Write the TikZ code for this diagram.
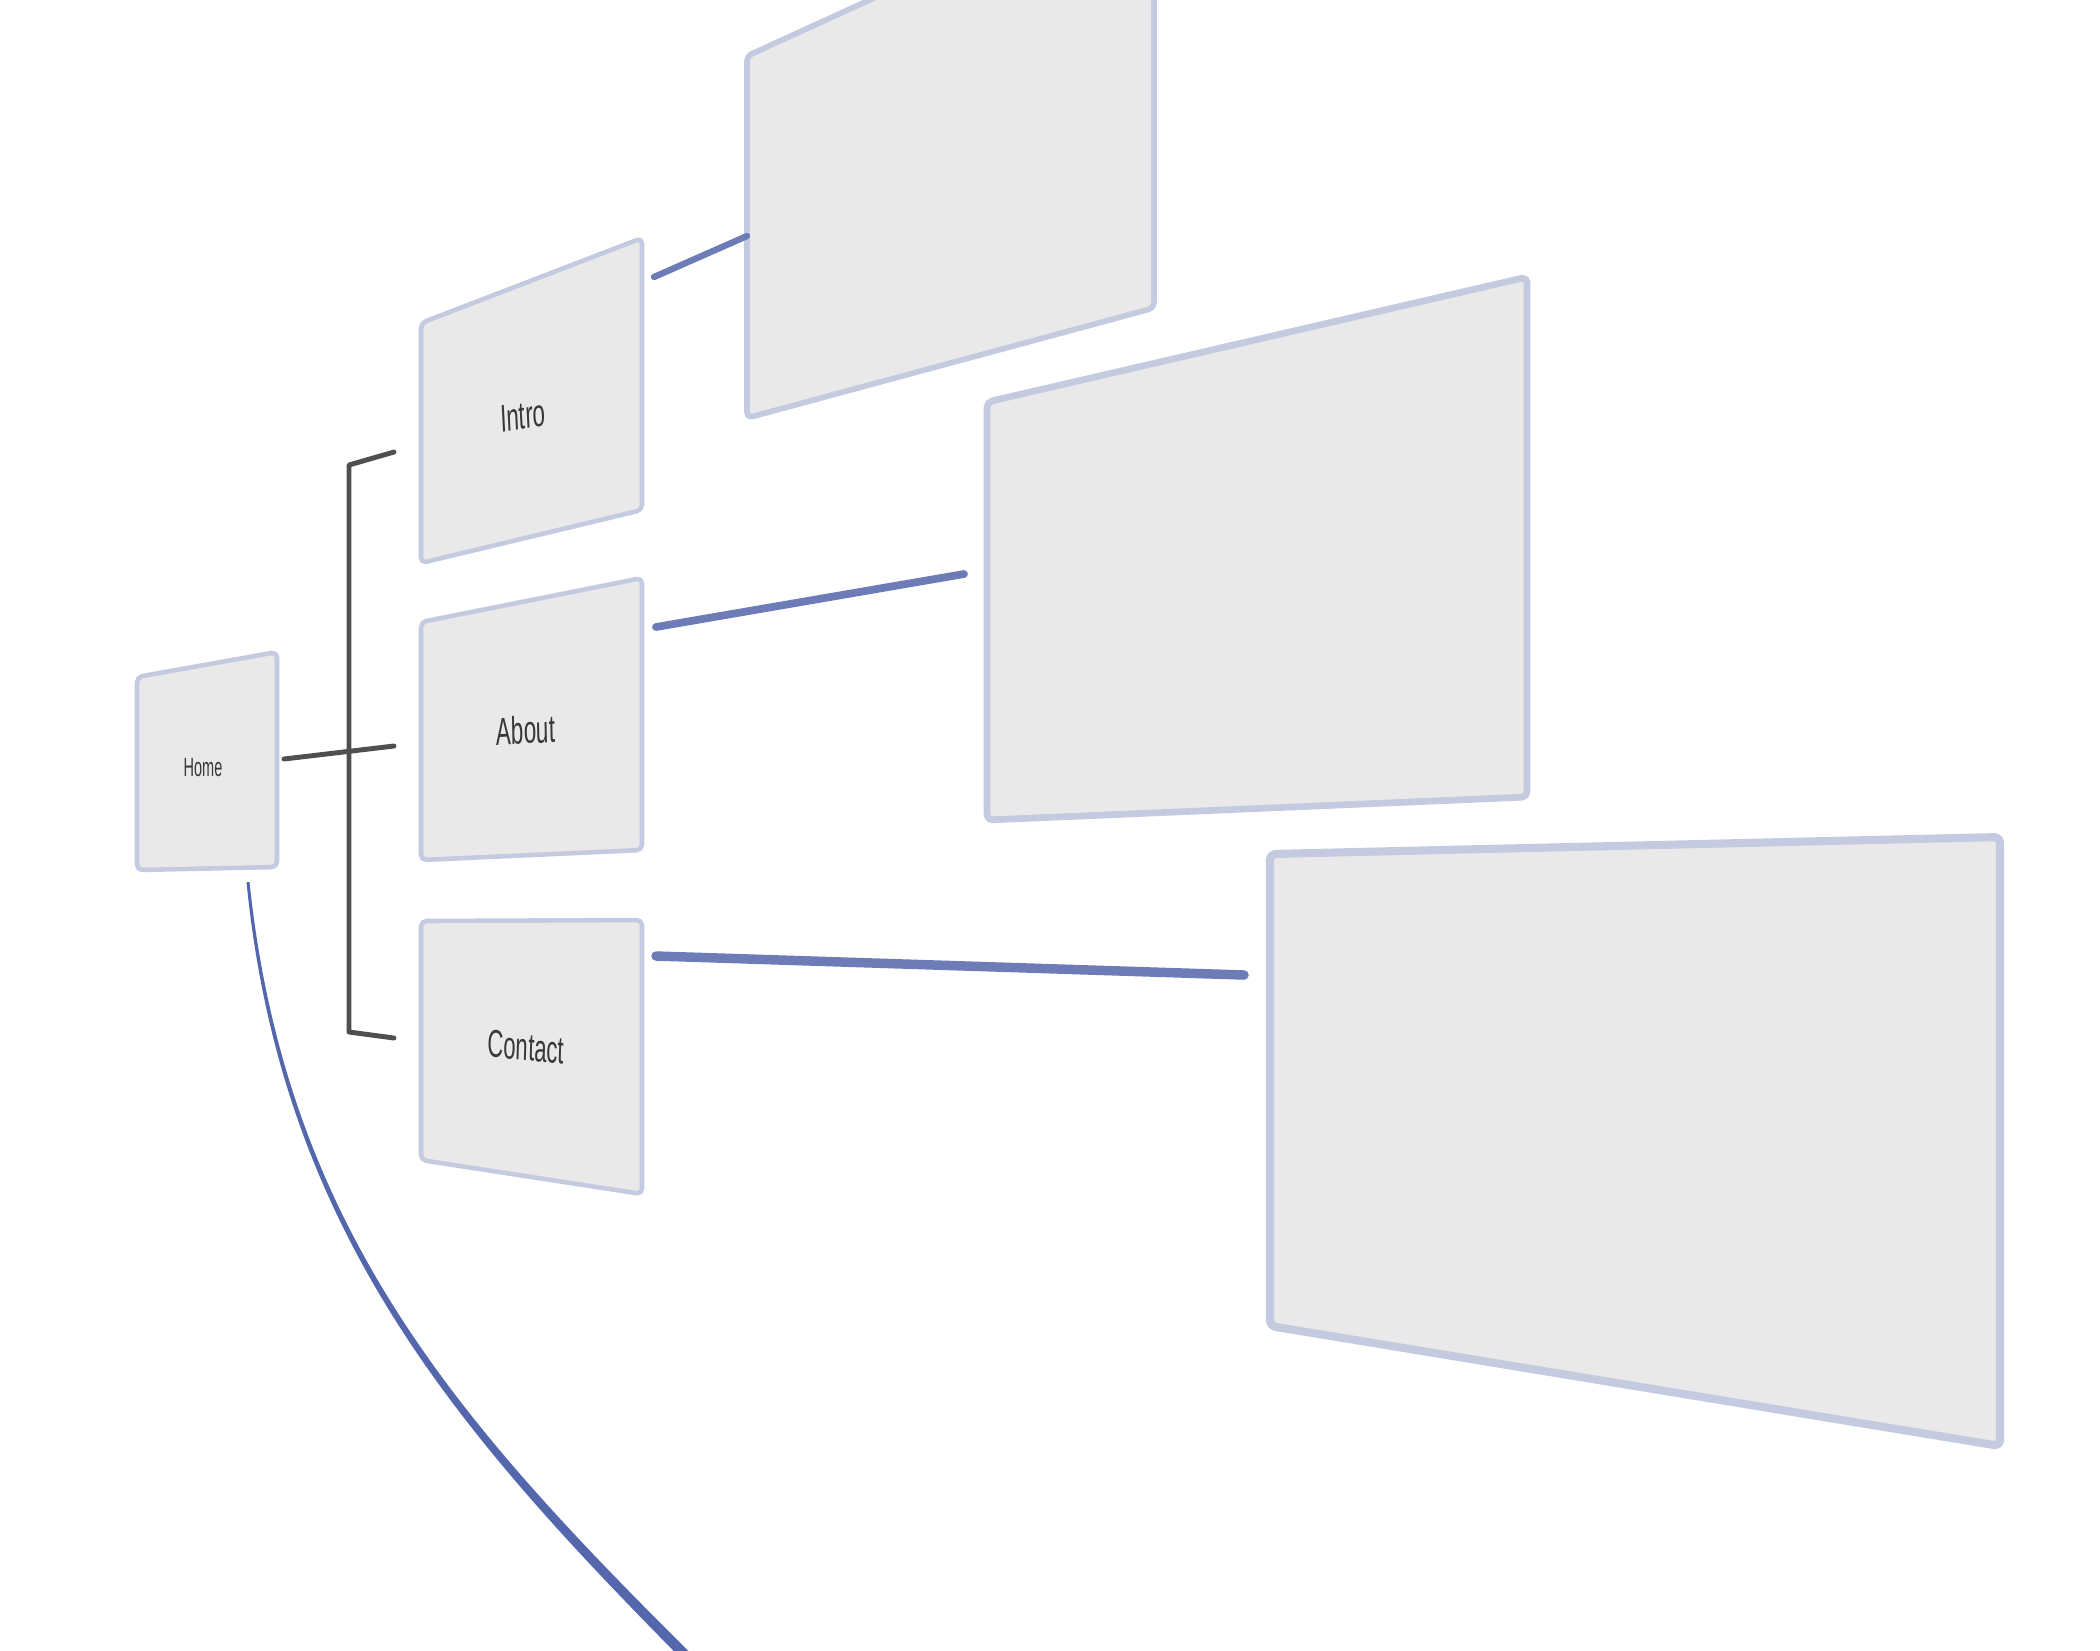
\documentclass[tikz,border=0pt]{standalone}
\usepackage{fontspec}
\setmainfont{Liberation Sans}
\usetikzlibrary{positioning,calc}
\definecolor{pagefill}{HTML}{E9E9E9}
\definecolor{pageline}{HTML}{C4CADF}
\definecolor{linkblue}{HTML}{6D7CB6}
\definecolor{curveblue}{HTML}{5466AC}
\definecolor{bracegray}{HTML}{4F4F4F}

\tikzset{
  pagebox/.style={fill=pagefill, draw=pageline, line width=1.3pt, rounded corners=1.5pt, line join=round},
  link/.style={draw=linkblue, line cap=round},
  brace/.style={draw=bracegray, line width=1.4pt, line cap=round, line join=round},
  pagelabel/.style={text=black!78, inner sep=0pt, font=\fontsize{11}{13}\selectfont}
}

\begin{document}
\begin{tikzpicture}[x=0.01cm,y=-0.01cm]
\useasboundingbox (0,0) rectangle (2100,1650);
\clip (0,0) rectangle (2100,1650);

% home
\filldraw[pagebox] (137,677) -- (277,652) -- (277,867) -- (137,870) -- cycle;
\node[pagelabel, font=\fontsize{7.5}{9}\selectfont, xscale=0.55] (home) at (203,768) {Home};

% first level
\filldraw[pagebox] (421,323) -- (642,238) -- (642,510) -- (421,563) -- cycle;
\filldraw[pagebox] (421,622) -- (642,578) -- (642,850) -- (421,860) -- cycle;
\filldraw[pagebox] (421,921) -- (642,920) -- (642,1194) -- (421,1160) -- cycle;
\node[pagelabel, xscale=0.58, rotate=5] (intro) at (523,416) {Intro};
\node[pagelabel, xscale=0.58, rotate=2] (about) at (526,730) {About};
\node[pagelabel, xscale=0.57, rotate=-3] (contact) at (526,1047) {Contact};

% second level
\filldraw[pagebox, line width=1.6pt] (747,56) -- (1154,-130) -- (1154,308) -- (747,418) -- cycle;
\filldraw[pagebox, line width=1.9pt] (987,402) -- (1527,277) -- (1527,797) -- (987,820) -- cycle;
\filldraw[pagebox, line width=2.3pt] (1270,854) -- (2000,837) -- (2000,1446) -- (1270,1326) -- cycle;

% bracket
\coordinate (home-out) at (284,759);
\coordinate (brace-top) at (394,452);
\coordinate (brace-tc) at (349,465);
\coordinate (brace-mid) at (394,746);
\coordinate (brace-bc) at (349,1032);
\coordinate (brace-bot) at (394,1038);
\draw[brace] (brace-top) -- (brace-tc) -- (brace-bc) -- (brace-bot);
\draw[brace] (home-out) -- (brace-mid);

% links to second level
\coordinate (intro-out) at (654,277);
\coordinate (sub1-in) at (747,236);
\coordinate (about-out) at (656,627);
\coordinate (sub2-in) at (964,574);
\coordinate (contact-out) at (656,956);
\coordinate (sub3-in) at (1244,975);
\draw[link, line width=1.8pt] (intro-out) -- (sub1-in);
\draw[link, line width=2.2pt] (about-out) -- (sub2-in);
\draw[link, line width=2.7pt] (contact-out) -- (sub3-in);

% curve off the page, getting wider
\coordinate (home-down) at (248,882);
\coordinate (offpage) at (690,1660);
\fill[curveblue] ($(home-down)+(-1.5,0)$) .. controls (281,1232) and (458,1433) .. ($(offpage)+(-3.7,3.7)$)
  -- ($(offpage)+(3.7,-3.7)$) .. controls (463,1427) and (286,1232) .. ($(home-down)+(1.5,0)$) -- cycle;
\end{tikzpicture}
\end{document}
